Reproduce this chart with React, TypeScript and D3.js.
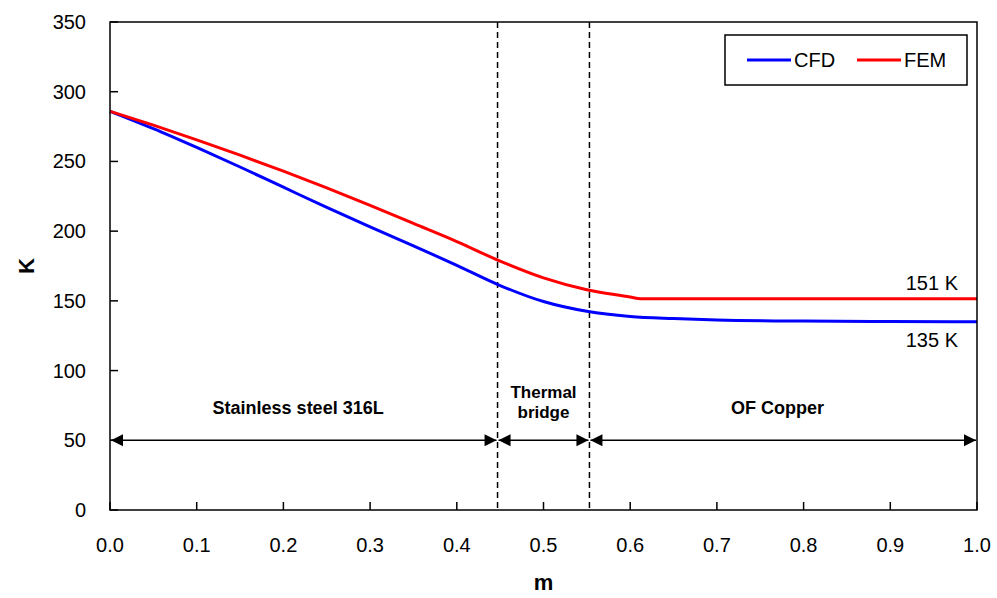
import React from "react";
import * as d3 from "d3";

// positions along the line (m) and temperatures (K)
const cfdX = [0, 0.05, 0.1, 0.15, 0.2, 0.25, 0.3, 0.35, 0.4, 0.45, 0.5, 0.55, 0.6, 0.65, 0.7, 0.8, 0.9, 1.0];
const cfdY = [286, 273.5, 260, 246, 231.5, 217, 203, 189.5, 175.5, 161, 149.5, 142.5, 138.8, 137.3, 136.3, 135.5, 135.2, 135];

const femX = [0, 0.05, 0.1, 0.15, 0.2, 0.25, 0.3, 0.35, 0.4, 0.45, 0.5, 0.55, 0.6, 0.612, 0.7, 0.8, 0.9, 1.0];
const femY = [286, 276, 265.5, 254.5, 243, 231, 218.5, 205.5, 192.5, 178.5, 166.5, 158, 152.8, 151.5, 151.5, 151.5, 151.5, 151.5];

const boundaries = [0.447, 0.553];
const regionLabels = ["Stainless steel 316L", "Thermal\nbridge", "OF Copper"];
const regionLabelX = [0.217, 0.5, 0.77];
const arrowLevel = 50;

const xTicks = [0, 0.1, 0.2, 0.3, 0.4, 0.5, 0.6, 0.7, 0.8, 0.9, 1.0];
const yTicks = [0, 50, 100, 150, 200, 250, 300, 350];

const seriesNames = ["CFD", "FEM"];
const seriesColors = ["#0000ff", "#ff0000"];
const endLabels = ["135 K", "151 K"];

export default function App() {
  const width = 997;
  const height = 598;
  const left = 110, right = 977, top = 22, bottom = 510;

  const x = d3.scaleLinear().domain([0, 1]).range([left, right]);
  const y = d3.scaleLinear().domain([0, 350]).range([bottom, top]);

  const line = d3
    .line<[number, number]>()
    .x((d) => x(d[0]))
    .y((d) => y(d[1]))
    .curve(d3.curveMonotoneX);

  const cfdPts = cfdX.map((v, i) => [v, cfdY[i]] as [number, number]);
  const femPts = femX.map((v, i) => [v, femY[i]] as [number, number]);

  const font = "'Liberation Sans', Arial, sans-serif";

  // double-headed arrows between region edges
  const edges = [0, ...boundaries, 1];
  const ay = y(arrowLevel);
  const head = (px: number, dir: number) =>
    `M${px},${ay} L${px - dir * 12},${ay - 6} L${px - dir * 12},${ay + 6} Z`;

  return (
    <svg width={width} height={height} style={{ position: "absolute", left: 0, top: 0 }}>
      <rect width={width} height={height} fill="#fff" />

      {/* dashed boundaries */}
      {boundaries.map((b) => (
        <line key={b} x1={x(b)} x2={x(b)} y1={top} y2={bottom} stroke="#000" strokeWidth={1.5} strokeDasharray="6,4" />
      ))}

      {/* arrows */}
      {edges.slice(0, -1).map((e, i) => {
        const x0 = x(e) + 1, x1 = x(edges[i + 1]) - 1;
        return (
          <g key={i}>
            <line x1={x0} x2={x1} y1={ay} y2={ay} stroke="#000" strokeWidth={1.4} />
            <path d={head(x0, -1)} fill="#000" />
            <path d={head(x1, 1)} fill="#000" />
          </g>
        );
      })}

      {/* region labels */}
      {regionLabels.map((t, i) => {
        const parts = t.split("\n");
        return (
          <text key={t} x={x(regionLabelX[i])} textAnchor="middle" fontFamily={font} fontWeight="bold" fontSize={parts.length > 1 ? 17 : 18}>
            {parts.map((p, j) => (
              <tspan key={j} x={x(regionLabelX[i])} y={parts.length > 1 ? 398 + j * 20 : 414}>{p}</tspan>
            ))}
          </text>
        );
      })}

      {/* series */}
      <path d={line(cfdPts) || ""} fill="none" stroke={seriesColors[0]} strokeWidth={3} />
      <path d={line(femPts) || ""} fill="none" stroke={seriesColors[1]} strokeWidth={3} />

      {/* end labels */}
      <text x={958} y={y(cfdY[cfdY.length - 1]) + 25} textAnchor="end" fontFamily={font} fontSize={20}>{endLabels[0]}</text>
      <text x={958} y={y(femY[femY.length - 1]) - 9} textAnchor="end" fontFamily={font} fontSize={20}>{endLabels[1]}</text>

      {/* frame */}
      <rect x={left} y={top} width={right - left} height={bottom - top} fill="none" stroke="#000" strokeWidth={1.5} />

      {/* ticks */}
      {yTicks.map((t) => (
        <g key={"y" + t}>
          <line x1={left} x2={left + 8} y1={y(t)} y2={y(t)} stroke="#000" strokeWidth={1.5} />
          <text x={left - 24} y={y(t) + 7} textAnchor="end" fontFamily={font} fontSize={20}>{t}</text>
        </g>
      ))}
      {xTicks.map((t) => (
        <g key={"x" + t}>
          <line x1={x(t)} x2={x(t)} y1={bottom} y2={bottom - 8} stroke="#000" strokeWidth={1.5} />
          <text x={x(t)} y={bottom + 42} textAnchor="middle" fontFamily={font} fontSize={20}>{t.toFixed(1)}</text>
        </g>
      ))}

      {/* axis titles */}
      <text transform={`translate(34,${(top + bottom) / 2}) rotate(-90)`} textAnchor="middle" fontFamily={font} fontWeight="bold" fontSize={22}>K</text>
      <text x={(left + right) / 2} y={590} textAnchor="middle" fontFamily={font} fontWeight="bold" fontSize={22}>m</text>

      {/* legend */}
      <rect x={725} y={35} width={242} height={50} fill="#fff" stroke="#000" strokeWidth={1.5} />
      {seriesNames.map((n, i) => (
        <g key={n} transform={`translate(${747 + i * 110},60)`}>
          <line x1={0} x2={44} y1={0} y2={0} stroke={seriesColors[i]} strokeWidth={3} />
          <text x={47} y={7} fontFamily={font} fontSize={20}>{n}</text>
        </g>
      ))}
    </svg>
  );
}
